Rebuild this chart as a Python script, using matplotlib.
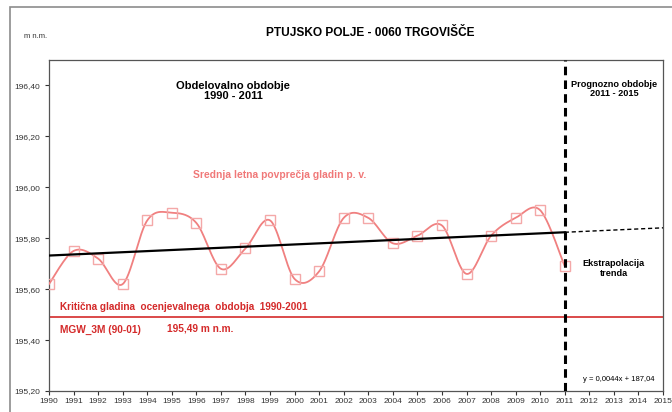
import numpy as np
import matplotlib
matplotlib.use("Agg")
import matplotlib.pyplot as plt
from matplotlib.patches import Rectangle
from matplotlib.ticker import FuncFormatter

plt.rcParams['font.family'] = ['Liberation Sans', 'DejaVu Sans']

years = [1990, 1991, 1992, 1993, 1994, 1995, 1996, 1997, 1998, 1999, 2000,
         2001, 2002, 2003, 2004, 2005, 2006, 2007, 2008, 2009, 2010, 2011]
levels = [195.62, 195.75, 195.72, 195.62, 195.87, 195.90, 195.86, 195.68,
          195.76, 195.87, 195.64, 195.67, 195.88, 195.88, 195.78, 195.81,
          195.85, 195.66, 195.81, 195.88, 195.91, 195.69]
critical_level = 195.49
forecast_end = 2015
split_year = 2011
x_ticks = list(range(1990, 2016))
y_ticks = [195.20, 195.40, 195.60, 195.80, 196.00, 196.20, 196.40]

title = "PTUJSKO POLJE - 0060 TRGOVIŠČE"
unit = "m n.m."

def smooth(xs, ys, n=30):
    xs = np.asarray(xs, float); ys = np.asarray(ys, float)
    px = np.concatenate([[xs[0]], xs, [xs[-1]]])
    py = np.concatenate([[ys[0]], ys, [ys[-1]]])
    ox, oy = [], []
    t = np.linspace(0, 1, n)
    for i in range(1, len(px) - 2):
        p0 = np.array([px[i], py[i]]); p3 = np.array([px[i + 1], py[i + 1]])
        c1 = p0 + (np.array([px[i + 1], py[i + 1]]) - np.array([px[i - 1], py[i - 1]])) / 6
        c2 = p3 - (np.array([px[i + 2], py[i + 2]]) - np.array([px[i], py[i]])) / 6
        b = ((1 - t) ** 3)[:, None] * p0 + (3 * (1 - t) ** 2 * t)[:, None] * c1 + \
            (3 * (1 - t) * t ** 2)[:, None] * c2 + (t ** 3)[:, None] * p3
        ox.extend(b[:, 0]); oy.extend(b[:, 1])
    return np.array(ox), np.array(oy)

fig = plt.figure(figsize=(6.72, 4.12), dpi=100)
# outer chart border
fig.patches.append(Rectangle((10 / 672, -0.1), 1.0, 1 - 7 / 412 + 0.1,
                             transform=fig.transFigure, fill=False,
                             edgecolor='#8c8c8c', linewidth=1.2))

ax = fig.add_axes([49 / 672, 1 - 391 / 412, (663 - 49) / 672, (391 - 60) / 412])
ax.set_xlim(1990, 2015)
ax.set_ylim(195.2, 196.5)

# smoothed series
sx, sy = smooth(years, levels)
ax.plot(sx, sy, color='#f08080', lw=1.3, zorder=3)
ax.plot(years, levels, linestyle='none', marker='s', markersize=7,
        markerfacecolor='none', markeredgecolor='#f4a8a8', markeredgewidth=1.0, zorder=4)

# trend
k, n0 = np.polyfit(years, levels, 1)
tx1 = np.array([years[0], split_year])
ax.plot(tx1, k * tx1 + n0, color='black', lw=1.6, zorder=5)
tx2 = np.array([split_year, forecast_end])
ax.plot(tx2, k * tx2 + n0, color='black', lw=1.0, linestyle=(0, (3, 2)), zorder=5)

# critical level
ax.axhline(critical_level, color='#d42a2a', lw=1.2, zorder=2)

# vertical split
ax.axvline(split_year, color='black', lw=2.2, linestyle=(0, (2.8, 1.7)), zorder=6)

ax.set_xticks(x_ticks)
ax.set_yticks(y_ticks)
ax.yaxis.set_major_formatter(FuncFormatter(lambda v, p: f"{v:.2f}".replace('.', ',')))
ax.tick_params(axis='both', labelsize=6, colors='#333333', length=3, width=0.8)
ax.tick_params(axis='x', pad=2)
for s in ax.spines.values():
    s.set_color('#555555'); s.set_linewidth(0.9)

# texts
fig.text(370 / 672, 1 - 33 / 412, title, ha='center', va='center', fontsize=8.6, fontweight='bold')
fig.text(36 / 672, 1 - 37 / 412, unit, ha='center', va='center', fontsize=5.5, color='#333333')

ax.text(1997.5, 196.38, "Obdelovalno obdobje\n1990 - 2011", ha='center', va='center',
        fontsize=8, fontweight='bold', linespacing=1.0)
ax.text(2013, 196.385, "Prognozno obdobje\n2011 - 2015", ha='center', va='center',
        fontsize=6.6, fontweight='bold', linespacing=1.0)
ax.text(1999.4, 196.05, "Srednja letna povprečja gladin p. v.", ha='center', va='center',
        fontsize=7.4, fontweight='bold', color='#f07878')
ax.text(2013, 195.68, "Ekstrapolacija\ntrenda", ha='center', va='center',
        fontsize=6.6, fontweight='bold', linespacing=1.1)
ax.text(2013.2, 195.245, "y = 0,0044x + 187,04", ha='center', va='center', fontsize=5.5)
ax.text(1990.45, 195.53, "Kritična gladina  ocenjevalnega  obdobja  1990-2001", ha='left',
        va='center', fontsize=7.2, fontweight='bold', color='#d42a2a')
ax.text(1990.45, 195.44, "MGW_3M (90-01)", ha='left', va='center', fontsize=7.3,
        fontweight='bold', color='#d42a2a')
ax.text(1994.8, 195.445, "195,49 m n.m.", ha='left', va='center', fontsize=7.3,
        fontweight='bold', color='#d42a2a')

fig.savefig("out.png", dpi=100)
